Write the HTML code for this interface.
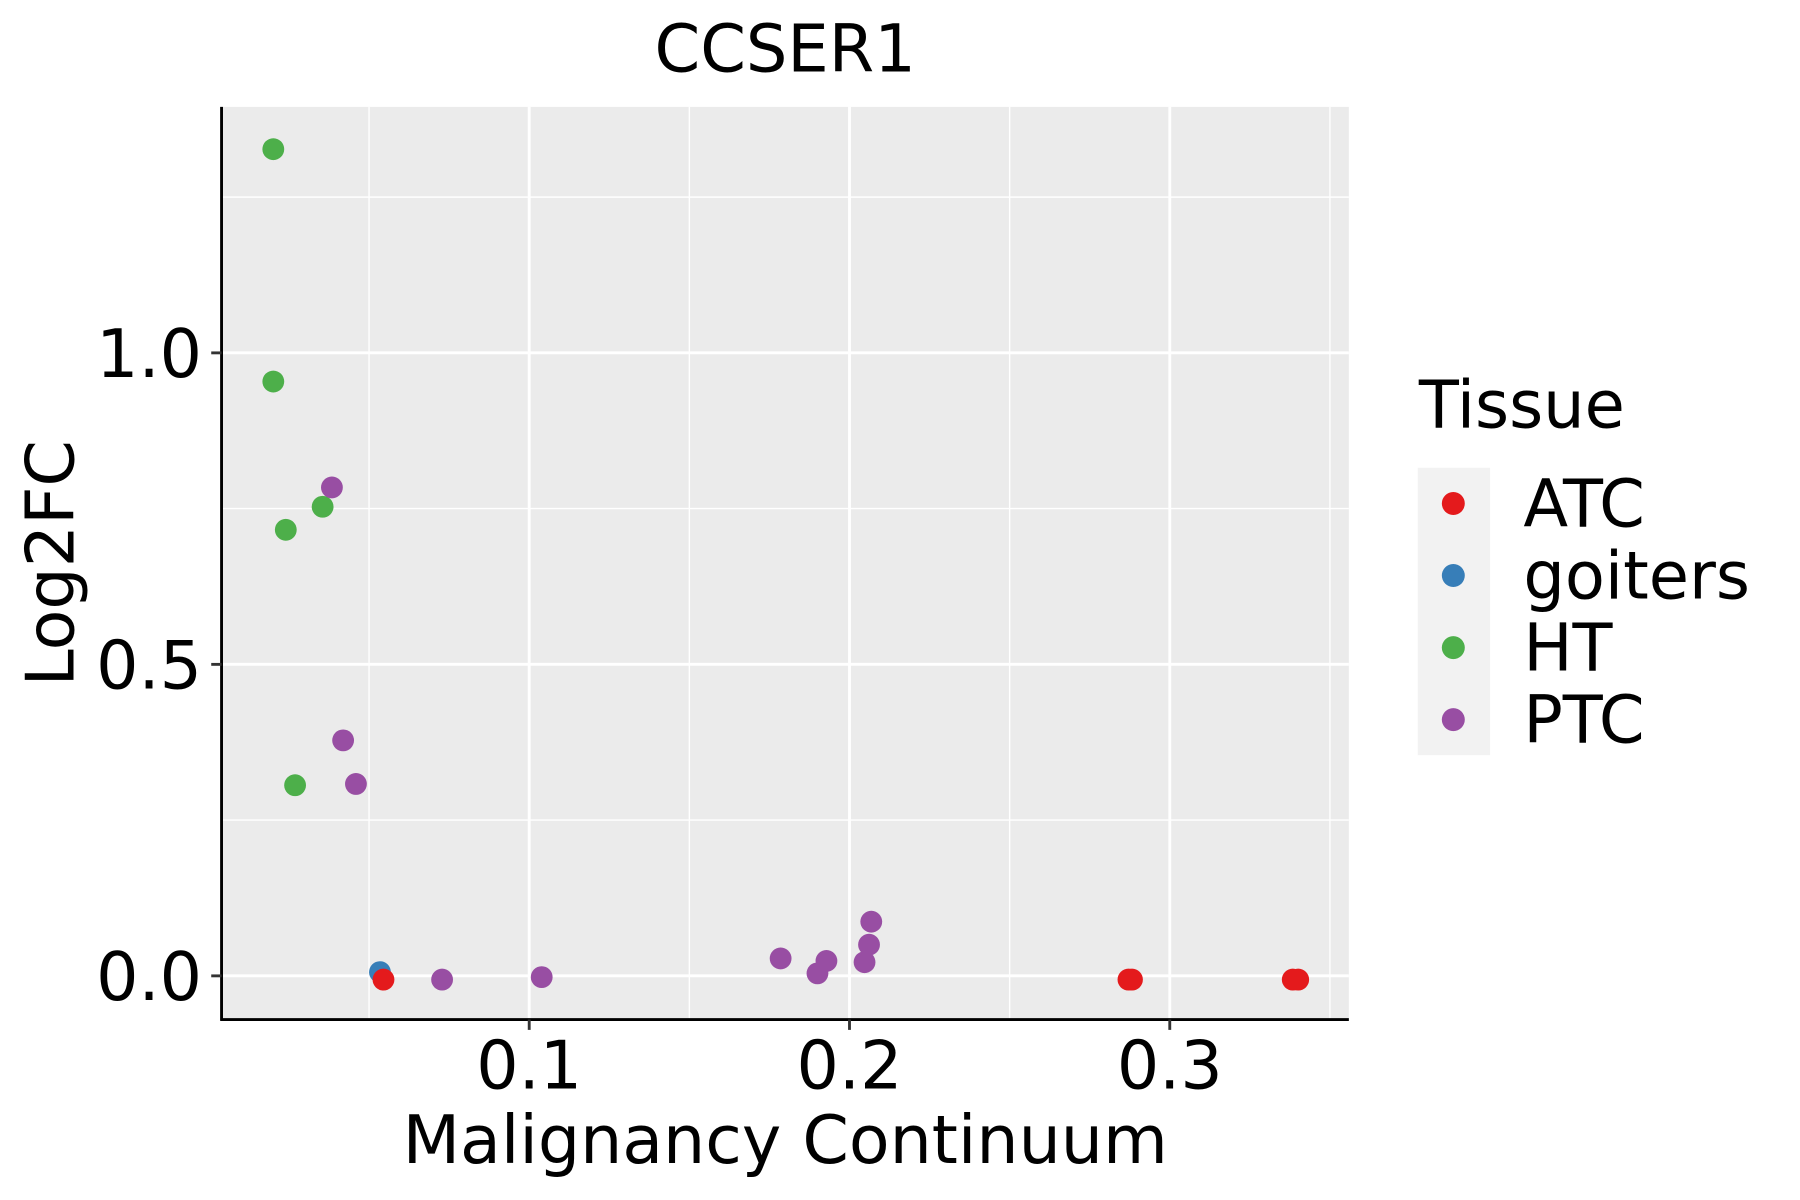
<!DOCTYPE html>
<html><head><meta charset="utf-8"><style>
html,body{margin:0;padding:0;background:#fff;}
svg{display:block;font-family:"DejaVu Sans","Liberation Sans",sans-serif;}
</style></head><body>
<svg id="chart" width="1800" height="1200" viewBox="0 0 1568 1044" preserveAspectRatio="none" xmlns="http://www.w3.org/2000/svg">
<text x="684" y="62" font-size="57" text-anchor="middle">CCSER1</text>
<rect x="193" y="93" width="982" height="794" fill="#ebebeb"/>
<g id="grid"></g>
<g id="pts"></g>
<line x1="193" y1="93" x2="193" y2="888" stroke="#000" stroke-width="2.5"/>
<line x1="192" y1="887" x2="1175" y2="887" stroke="#000" stroke-width="2.5"/>
<g id="ticks"></g>
<text x="684" y="1012" font-size="58" text-anchor="middle">Malignancy Continuum</text>
<text transform="translate(64,490) rotate(-90)" font-size="58" text-anchor="middle">Log2FC</text>
<text x="1236" y="372" font-size="57">Tissue</text>
<rect x="1235" y="407" width="63" height="250" fill="#f2f2f2"/>
<g id="legend"></g>
</svg>
<script>
const categories = ["ATC","goiters","HT","PTC"];
const colors = ["#e41a1c","#377eb8","#4daf4a","#984ea3"];
const xTicks = [0.1,0.2,0.3];
const xTickLabels = ["0.1","0.2","0.3"];
const yTicks = [0,0.5,1.0];
const yTickLabels = ["0.0","0.5","1.0"];
const xMinor = [0.05,0.15,0.25,0.35];
const yMinor = [0.25,0.75,1.25];
const ptX = [0.0201,0.0201,0.024,0.0355,0.0269,0.0384,0.0419,0.0459,0.0534,0.0545,0.0728,0.1039,0.1785,0.19,0.1928,0.2047,0.2061,0.2068,0.2871,0.2882,0.3384,0.3401];
const ptY = [1.327,0.954,0.716,0.753,0.306,0.784,0.378,0.308,0.006,-0.006,-0.006,-0.002,0.028,0.004,0.024,0.022,0.05,0.087,-0.006,-0.006,-0.006,-0.006];
const ptCat = ["HT","HT","HT","HT","HT","PTC","PTC","PTC","goiters","ATC","PTC","PTC","PTC","PTC","PTC","PTC","PTC","PTC","ATC","ATC","ATC","ATC"];

const NS="http://www.w3.org/2000/svg";
const sx = v => 182 + v*2790;
const sy = v => 849 - v*542;
function mk(tag, attrs, parent){const e=document.createElementNS(NS,tag);for(const k in attrs)e.setAttribute(k,attrs[k]);parent.appendChild(e);return e;}
const grid=document.getElementById('grid'), ticks=document.getElementById('ticks'), pts=document.getElementById('pts'), leg=document.getElementById('legend');
xMinor.forEach(v=>{const l=mk('line',{x1:sx(v),x2:sx(v),y1:93,y2:887,stroke:'#fff','stroke-width':1.2},grid);

});
yMinor.forEach(v=>{const l=mk('line',{x1:193,x2:1175,y1:sy(v),y2:sy(v),stroke:'#fff','stroke-width':1.2},grid);

});
xTicks.forEach((v,i)=>{const l=mk('line',{x1:sx(v),x2:sx(v),y1:93,y2:887,stroke:'#fff','stroke-width':2.5},grid);


const t=mk('line',{x1:sx(v),x2:sx(v),y1:887,y2:896,stroke:'#333','stroke-width':2.5},ticks);


const tx=mk('text',{x:sx(v),y:947,'font-size':58,'text-anchor':'middle'},ticks);tx.textContent=xTickLabels[i];

});
yTicks.forEach((v,i)=>{const l=mk('line',{x1:193,x2:1175,y1:sy(v),y2:sy(v),stroke:'#fff','stroke-width':2.5},grid);


const t=mk('line',{x1:184,x2:193,y1:sy(v),y2:sy(v),stroke:'#333','stroke-width':2.5},ticks);


const tx=mk('text',{x:176,y:sy(v)+21,'font-size':58,'text-anchor':'end'},ticks);tx.textContent=yTickLabels[i];

});
ptX.forEach((x,i)=>{const c=mk('circle',{cx:sx(x),cy:sy(ptY[i]),r:9.5,fill:colors[categories.indexOf(ptCat[i])]},pts);

});
categories.forEach((c,i)=>{const y=438+i*62.7;
const d=mk('circle',{cx:1266,cy:y,r:10,fill:colors[i]},leg);


const t=mk('text',{x:1327,y:y+20,'font-size':57},leg);t.textContent=c;

});
</script>
</body></html>
